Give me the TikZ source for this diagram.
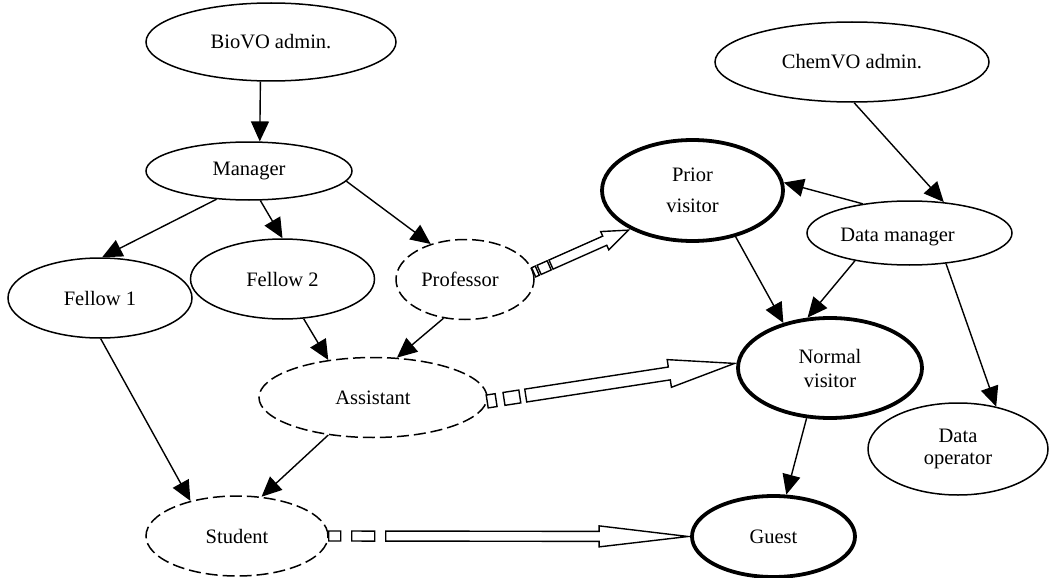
\documentclass[tikz,border=0pt]{standalone}
\usepackage{fontspec}
\setmainfont{Liberation Serif}
\usetikzlibrary{arrows.meta,shapes.geometric,calc}

\tikzset{
  ell/.style={ellipse, draw, line width=1.5pt, inner sep=0pt, align=center},
  ellthick/.style={ell, line width=3.8pt},
  elldash/.style={ell, dash pattern=on 12pt off 5pt},
  conn/.style={line width=1.4pt, -{Triangle[length=20pt,width=18pt]}},
  barrowsty/.style={draw, fill=white, line width=1.4pt, line join=miter},
}

% striped block arrow: #1 start, #2 end, #3 stripe1 end, #4/#5 stripe2, #6 shaft start,
% #7 shaft half width, #8 head half width, #9 head length
\newcommand\barrow[9]{%
  \path (#1) coordinate (baS) (#2) coordinate (baE);
  \pgfpointdiff{\pgfpointanchor{baS}{center}}{\pgfpointanchor{baE}{center}}%
  \pgfgetlastxy{\badx}{\bady}%
  \pgfmathsetmacro\baang{atan2(\bady,\badx)}%
  \pgfmathsetmacro\balen{veclen(\badx,\bady)-2}%
  \pgfmathsetmacro\bahb{\balen-#9}%
  \begin{scope}[shift={(baS)}, rotate=\baang, x=1pt, y=1pt]
    \draw[barrowsty] (0,-#7) rectangle (#3,#7);
    \draw[barrowsty] (#4,-#7) rectangle (#5,#7);
    \draw[barrowsty] (#6,-#7) -- (\bahb,-#7) -- (\bahb,-#8) -- (\balen,0)
      -- (\bahb,#8) -- (\bahb,#7) -- (#6,#7) -- cycle;
  \end{scope}}

\begin{document}
\begin{tikzpicture}[x=1pt,y=-1pt,font=\fontsize{20.5}{24}\selectfont]
\useasboundingbox (0,0) rectangle (1050,578);

\node[ell, minimum width=250pt, minimum height=78pt] (bio) at (271,42) {BioVO admin.};
\node[ell, minimum width=206pt, minimum height=58pt] (man) at (249,171) {Manager};
\node[ell, minimum width=274pt, minimum height=80pt] (chem) at (852,62) {ChemVO admin.};
\node[ellthick, minimum width=181pt, minimum height=101pt] (prior) at (692.5,190.5) {Prior\\[7pt]visitor};
\node[ell, minimum width=205pt, minimum height=64pt,
      label={[xshift=-12pt,yshift=-4pt]center:Data manager}] (dm) at (909.5,233) {};
\node[ell, minimum width=184pt, minimum height=80pt] (f1) at (100,298) {Fellow 1};
\node[ell, minimum width=184pt, minimum height=80pt] (f2) at (282.5,279) {Fellow 2};
\node[elldash, minimum width=138pt, minimum height=80pt,
      label={[xshift=-5pt]center:Professor}] (prof) at (465,279.5) {};
\node[elldash, minimum width=228pt, minimum height=80pt] (asst) at (373,397.5) {Assistant};
\node[ellthick, minimum width=184pt, minimum height=100pt] (norm) at (830,368) {Normal\\visitor};
\node[ell, minimum width=180pt, minimum height=92pt] (dop) at (958,449) {Data\\[-2pt]operator};
\node[elldash, minimum width=182pt, minimum height=80pt] (stud) at (237,536) {Student};
\node[ellthick, minimum width=163pt, minimum height=81pt] (guest) at (773.5,536.5) {Guest};

\draw[conn] (bio.-105) -- (man.70);
\draw[conn] (man.-139.5) -- (f1.87);
\draw[conn] (man.-69) -- (f2.90);
\draw[conn] (man.-6.4) -- (prof.134);
\draw[conn] (f2.-62) -- (asst.140);
\draw[conn] (prof.-119) -- (asst.59);
\draw[conn] (f1.-89) -- (stud.143);
\draw[conn] (asst.-140) -- (stud.58);
\draw[conn] (chem.-87) -- (dm.42);
\draw[conn] (dm.148) -- (prior.5);
\draw[conn] (prior.-47) -- (norm.136);
\draw[conn] (dm.-153) -- (norm.114);
\draw[conn] (dm.-40) -- (dop.48);
\draw[conn] (norm.-115) -- (guest.73);

\barrow{prof.6}{prior.-148}{4}{6}{17}{19}{5}{10}{26}
\barrow{asst.-2.5}{norm.177}{9}{17}{33}{39}{6.5}{14}{66}
\barrow{stud.east}{guest.west}{12}{23}{46}{57}{5}{10.5}{89}
\end{tikzpicture}
\end{document}
